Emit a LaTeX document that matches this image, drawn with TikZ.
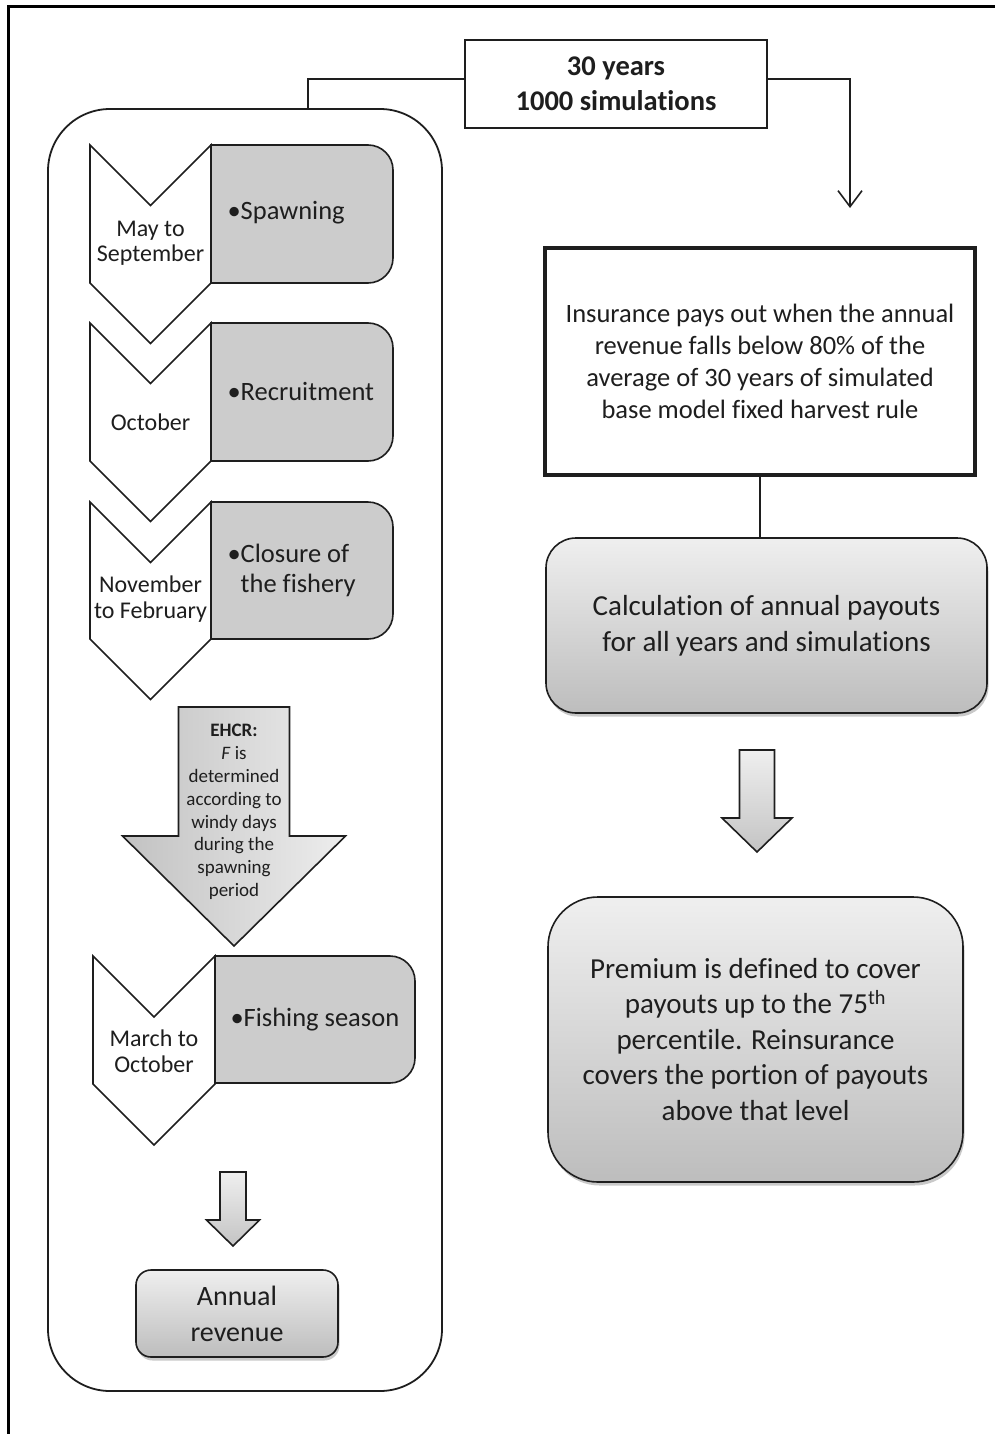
\documentclass[tikz,border=0pt]{standalone}
\usepackage{fontspec}
\setmainfont{Carlito}[Ligatures=CommonOff]
\usetikzlibrary{arrows.meta,positioning,calc,shadows}
\definecolor{ink}{HTML}{1E1E1E}
\definecolor{stagegray}{HTML}{CCCCCC}
\definecolor{shadetop}{HTML}{EFEFEF}
\definecolor{shadebot}{HTML}{BDBDBD}
\newcommand{\fsz}[2]{\fontsize{#1}{#2}\selectfont}
% chevron: left x, top y, width, straight side
\newcommand{\chevron}[4]{%
  \draw[chev] (#1,#2) -- ({#1+#3/2},{#2+#3/2}) -- ({#1+#3},#2) -- ({#1+#3},{#2+#4})
    -- ({#1+#3/2},{#2+#4+#3/2}) -- (#1,{#2+#4}) -- cycle;}
% grey stage box, rounded on the right: left x, top y, right x, bottom y
\newcommand{\stagebox}[4]{%
  \draw[stage] (#1,#2) -- ({#3-25},#2) arc[start angle=90,end angle=0,radius=25pt]
    -- (#3,{#4-25}) arc[start angle=0,end angle=-90,radius=25pt] -- (#1,#4) -- cycle;}
% block arrow down: style, centre x, top y, shaft half, head y, head half, tip y
\newcommand{\blockdown}[7]{%
  \draw[#1] ({#2-#4},#3) -- ({#2+#4},#3) -- ({#2+#4},#5) -- ({#2+#6},#5) -- (#2,#7)
    -- ({#2-#6},#5) -- ({#2-#4},#5) -- cycle;}
\tikzset{
  frameline/.style={line width=3pt,draw=black},
  chev/.style={draw=ink,line width=1.6pt,fill=white,line join=miter},
  stage/.style={draw=ink,line width=1.6pt,fill=stagegray},
  month/.style={align=center,text=ink,font=\fsz{24}{25.5}},
  task/.style={anchor=west,align=left,text=ink,font=\fsz{26.5}{30}},
  softshadow/.style={drop shadow={shadow xshift=1.5pt,shadow yshift=-3.5pt,opacity=.3,fill=black!70}},
  shadebox/.style={draw=ink,line width=1.6pt,top color=shadetop,bottom color=shadebot,
    align=center,text=ink,inner sep=0pt,softshadow},
  plainbox/.style={draw=ink,fill=white,align=center,text=ink,inner sep=0pt},
  link/.style={draw=ink,line width=1.6pt},
  linkarr/.style={link,-{Straight Barb[length=16pt,width=24pt,line width=1.6pt]}},
  fatarrow/.style={draw=ink,line width=1.6pt,top color=shadetop,bottom color=shadebot!90},
  ehcrarrow/.style={draw=ink,line width=1.6pt,left color=black!24,right color=black!7}
}
\begin{document}
\begin{tikzpicture}[x=1pt,y=-1pt]
  \useasboundingbox (0,0) rectangle (995,1434);
  \draw[frameline] (8,1440) -- (8,7) -- (1000,7);

  % left column: one year of the season
  \node[draw=ink,line width=1.8pt,rounded corners=62pt,minimum width=394pt,minimum height=1282pt] (season) at (245,750) {};

  \stagebox{211}{145}{393}{283}
  \stagebox{211}{323}{393}{461}
  \stagebox{211}{502}{393}{639}
  \stagebox{215}{956}{415}{1083}
  \chevron{90}{145}{121}{138}
  \chevron{90}{323}{121}{138}
  \chevron{90}{502}{121}{137}
  \chevron{93}{956}{122}{128}

  \node[month] (may) at (150.5,243) {May to\\September};
  \node[month] (oct) at (150.5,422) {October};
  \node[month] (nov) at (150.5,599) {November\\to February};
  \node[month] (mar) at (154,1051) {March to\\October};

  \node[task] (spawn) at (224,213) {\textbullet Spawning};
  \node[task] (recruit) at (224,391) {\textbullet Recruitment};
  \node[task] (closure) at (224,570) {\textbullet Closure of\\\phantom{\textbullet}the fishery};
  \node[task] (fishing) at (227,1020) {\textbullet Fishing season};

  \blockdown{ehcrarrow}{234}{707}{55.5}{836}{111.5}{946}
  \node[align=center,text=ink,font=\fsz{19}{22.8}] (ehcr) at (234,812)
    {\textbf{EHCR:}\\\textit{F} is\\determined\\according to\\windy days\\during the\\spawning\\period};

  \blockdown{fatarrow}{233}{1172}{13}{1220}{26.5}{1246}
  \node[shadebox,rounded corners=15pt,minimum width=202pt,minimum height=87pt,font=\fsz{28}{36}] (revenue) at (237,1313.5) {Annual\\revenue};

  % right column: insurance scheme
  \node[plainbox,line width=2pt,minimum width=302pt,minimum height=88pt,font=\bfseries\fsz{28.5}{35}] (years) at (616,84) {30 years\\1000 simulations};
  \node[plainbox,line width=3.2pt,minimum width=430pt,minimum height=227pt,font=\fsz{26.5}{32}] (insure) at (760,361.5)
    {Insurance pays out when the annual\\revenue falls below 80\% of the\\average of 30 years of simulated\\base model fixed harvest rule};
  \node[shadebox,rounded corners=30pt,minimum width=441pt,minimum height=175pt,font=\fsz{29}{36}] (payouts) at (766.5,625.5)
    {Calculation of annual payouts\\for all years and simulations};
  \blockdown{fatarrow}{757}{750}{17.5}{818}{35}{852}
  \node[shadebox,rounded corners=50pt,minimum width=415pt,minimum height=285pt,font=\fsz{29}{35.5}] (premium) at (755.5,1039.5)
    {Premium is defined to cover\\payouts up to the 75\textsuperscript{th}\\percentile. Reinsurance\\covers the portion of payouts\\above that level};

  \coordinate (drop) at (850,208);
  \draw[link] ([yshift=5pt]years.west) -| ([xshift=63pt]season.north);
  \draw[linkarr] ([yshift=5pt]years.east) -| (drop);
  \draw[link] (insure.south) -- (insure.south |- payouts.north);
\end{tikzpicture}
\end{document}
